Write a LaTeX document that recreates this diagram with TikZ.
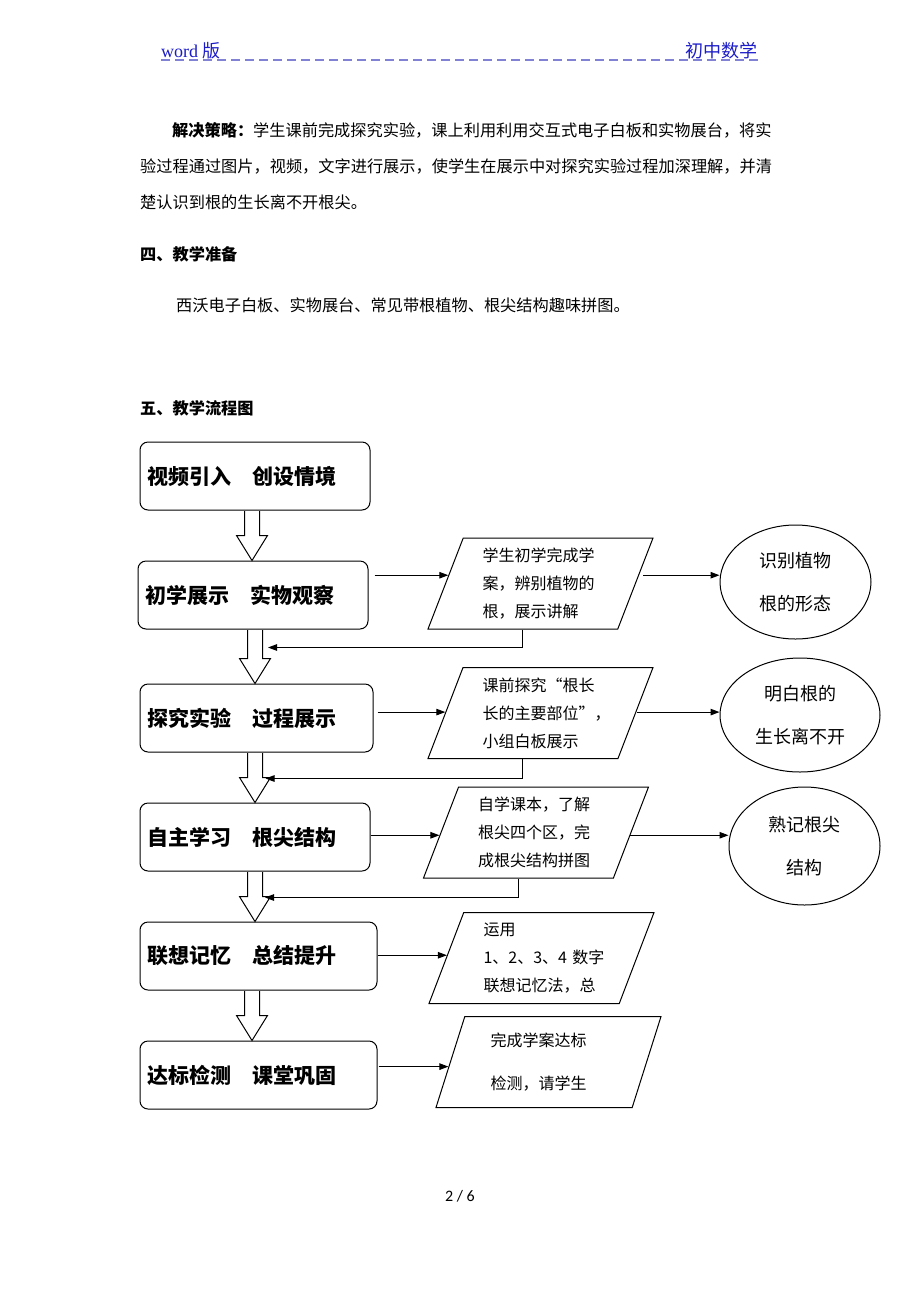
\documentclass[tikz,border=0pt]{standalone}
\usepackage{fontspec}
\setmainfont{Noto Sans CJK SC}
\newfontfamily\lserif{Liberation Serif}
\newfontfamily\pagefont{Carlito}
\usepackage{tikz}
\usetikzlibrary{calc, shapes.geometric, arrows.meta}

\definecolor{hdrblue}{RGB}{28,28,200}
\definecolor{hdrdash}{RGB}{130,130,212}

% hollow block arrow from one stage box down to the next
\newcommand{\hollowarrow}[3]{%
  \draw[hollow] let \p1=($(#1.south)+(#3,0)$), \p2=(#2.north) in
    (\x1-7.5pt,\y1-0.5pt) -- (\x1-7.5pt,\y2+25pt) -- (\x1-15.5pt,\y2+25pt)
    -- (\x1,\y2) -- (\x1+15.5pt,\y2+25pt) -- (\x1+7.5pt,\y2+25pt)
    -- (\x1+7.5pt,\y1-0.5pt);}

\begin{document}
\begin{tikzpicture}[x=1pt, y=-1pt,
  stage/.style={draw, line width=1pt, rounded corners=8pt, minimum height=68pt,
    inner sep=7pt, text width=#1, align=left,
    font=\bfseries\fontsize{21}{25}\selectfont},
  task/.style={draw, line width=1pt, trapezium, trapezium left angle=63.7,
    trapezium right angle=116.3, trapezium stretches body, minimum width=225pt,
    minimum height=91pt, inner sep=0pt, text width=116pt, align=left,
    font=\fontsize{16}{28}\selectfont},
  goal/.style={draw, line width=1pt, ellipse, inner sep=0pt, align=center,
    font=\fontsize{18}{43}\selectfont},
  flow/.style={line width=1pt, -{Triangle[length=9pt,width=6.5pt]}},
  hollow/.style={draw, line width=1pt, fill=white},
  body/.style={anchor=west, inner sep=0pt, font=\fontsize{16.2}{20}\selectfont},
  hdr/.style={inner sep=0pt, text=hdrblue, font=\fontsize{18}{20}\selectfont}]
\useasboundingbox[fill=white] (0,0) rectangle (920,1302);

% page header
\node[hdr, anchor=base west] (hleft) at (161,57) {{\lserif word} 版};
\node[hdr, anchor=base east] (hright) at (758,57) {初中数学};
\draw[hdrdash, line width=1.3pt, dash pattern=on 9pt off 5pt] (161,60) -- (758,60);

% text above the chart
\node[body] (t1) at (172,130) {\textbf{解决策略：}学生课前完成探究实验，课上利用利用交互式电子白板和实物展台，将实};
\node[body] (t2) at (140,166) {验过程通过图片，视频，文字进行展示，使学生在展示中对探究实验过程加深理解，并清};
\node[body] (t3) at (140,202) {楚认识到根的生长离不开根尖。};
\node[body, font=\bfseries\fontsize{16.2}{20}\selectfont] (h4) at (140,254) {四、教学准备};
\node[body] (t4) at (176,305) {西沃电子白板、实物展台、常见带根植物、根尖结构趣味拼图。};
\node[body, font=\bfseries\fontsize{16.2}{20}\selectfont] (h5) at (140,408) {五、教学流程图};

% teaching stages
\node[stage=216pt] (b1) at (255,476) {视频引入　创设情境};
\node[stage=216pt] (b2) at (253,595) {初学展示　实物观察};
\node[stage=219pt] (b3) at (256.5,718) {探究实验　过程展示};
\node[stage=216pt] (b4) at (255,837) {自主学习　根尖结构};
\node[stage=223pt] (b5) at (258.5,956) {联想记忆　总结提升};
\node[stage=223pt] (b6) at (258.5,1075) {达标检测　课堂巩固};

% student activities
\node[task] (p2) at (540.5,583.5) {学生初学完成学\\案，辨别植物的\\根，展示讲解};
\node[task] (p3) at (540.5,713) {课前探究“根长\\长的主要部位”，\\小组白板展示};
\node[task] (p4) at (536,832.5) {自学课本，了解\\根尖四个区，完\\成根尖结构拼图};
\node[task] (p5) at (541.5,958) {运用\\\mbox{1、2、3、4 数字}\\联想记忆法，总};
\node[task] (p6) at (548.5,1062) {完成学案达标\\[15pt]检测，请学生};

% aims
\node[goal, minimum width=151pt, minimum height=114pt] (e2) at (795.5,582) {识别植物\\根的形态};
\node[goal, minimum width=160pt, minimum height=114pt] (e3) at (800,715) {明白根的\\生长离不开};
\node[goal, minimum width=151pt, minimum height=118pt] (e4) at (804.5,846) {熟记根尖\\结构};

% down the main column
\hollowarrow{b1}{b2}{-3}
\hollowarrow{b2}{b3}{2}
\hollowarrow{b3}{b4}{-1.5}
\hollowarrow{b4}{b5}{0}
\hollowarrow{b5}{b6}{-6.5}

% where the arrows meet the slanted sides
\coordinate (l2) at ($(p2.top left corner)!.41!(p2.bottom left corner)$);
\coordinate (r2) at ($(p2.top right corner)!.41!(p2.bottom right corner)$);
\coordinate (l3) at ($(p3.top left corner)!.49!(p3.bottom left corner)$);
\coordinate (r3) at ($(p3.top right corner)!.49!(p3.bottom right corner)$);
\coordinate (l4) at ($(p4.top left corner)!.53!(p4.bottom left corner)$);
\coordinate (r4) at ($(p4.top right corner)!.53!(p4.bottom right corner)$);
\coordinate (l5) at ($(p5.top left corner)!.47!(p5.bottom left corner)$);
\coordinate (l6) at ($(p6.top left corner)!.55!(p6.bottom left corner)$);

\draw[flow] (b2.east |- l2) ++(6,0) -- (l2);
\draw[flow] (r2) ++(4,0) -- (e2.west |- r2);
\draw[flow] (b3.east |- l3) ++(4,0) -- (l3);
\draw[flow] (r3) ++(1,0) -- (e3.west |- r3);
\draw[flow] (b4.east |- l4) -- (l4);
\draw[flow] (r4) -- (e4.west |- r4);
\draw[flow] (b5.east |- l5) -- (l5);
\draw[flow] (b6.east |- l6) ++(1,0) -- (l6);

% feedback back to the main column
\coordinate (k2) at ($(b2.south)+(15,18)$);
\coordinate (k3) at ($(b3.south)+(9,26)$);
\coordinate (k4) at ($(b4.south)+(10,26)$);
\draw[flow] (p2.bottom side) |- (k2);
\draw[flow] (p3.bottom side) |- (k3);
\draw[flow] (p4.bottom side) |- (k4);

% page number
\node[inner sep=0pt, font=\pagefont\fontsize{16}{18}\selectfont] (pg) at (460,1196) {2 / 6};
\end{tikzpicture}
\end{document}
